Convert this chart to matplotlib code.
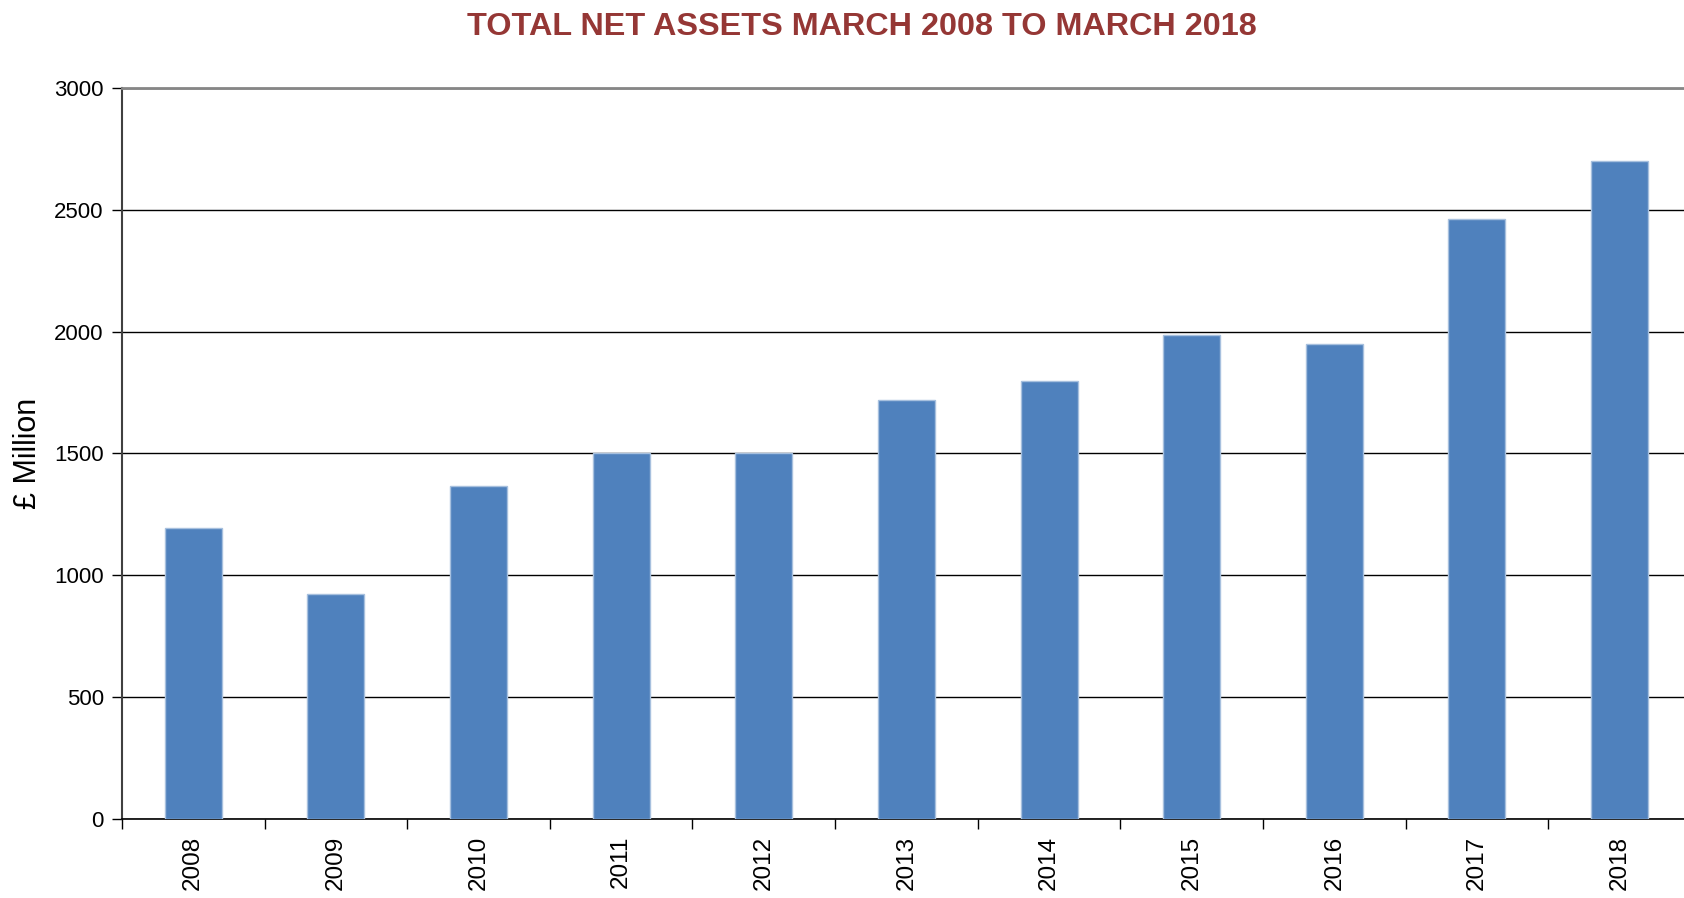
import matplotlib.pyplot as plt
import numpy as np

plt.rcParams['font.family'] = ['Liberation Sans', 'DejaVu Sans']

# Total net assets at March of each year (£ million)
years = ["2008", "2009", "2010", "2011", "2012", "2013",
         "2014", "2015", "2016", "2017", "2018"]
net_assets = [1195, 922, 1368, 1502, 1500, 1720, 1796, 1985, 1950, 2463, 2702]
y_ticks = [0, 500, 1000, 1500, 2000, 2500, 3000]

fig = plt.figure(figsize=(16.84, 8.98), dpi=100)
# plot area runs slightly off the right edge, as in the original
ax = fig.add_axes([0.0724, 0.088, 0.9317, 0.814])

x = np.arange(len(years))
ax.bar(x, net_assets, width=0.4, color="#4F81BD", edgecolor="#A7C0DE",
       linewidth=1, zorder=3)

ax.set_xlim(-0.5, len(years) - 0.5)
ax.set_ylim(0, 3000)
ax.set_yticks(y_ticks)
ax.set_yticklabels([str(v) for v in y_ticks], fontsize=16)
ax.grid(axis="y", color="black", linewidth=1, zorder=0)

# category labels under bars, tick marks on the boundaries
ax.set_xticks(x)
ax.set_xticklabels(years, rotation=90, fontsize=17.5)
ax.tick_params(axis="x", which="major", length=0, pad=12)
ax.set_xticks(np.arange(-0.5, len(years)), minor=True)
ax.tick_params(axis="x", which="minor", length=7, width=1, direction="out")
ax.tick_params(axis="y", length=7, width=1, direction="out", pad=6)

ax.spines["top"].set_color("#868686")
ax.spines["top"].set_linewidth(2)
ax.spines["right"].set_visible(False)
ax.spines["left"].set_color("#404040")
ax.spines["left"].set_linewidth(1.5)
ax.spines["bottom"].set_color("black")
ax.spines["bottom"].set_linewidth(1.2)

ax.set_ylabel("£ Million", fontsize=22, labelpad=8)

fig.suptitle("TOTAL NET ASSETS MARCH 2008 TO MARCH 2018", x=0.512, y=0.987,
             fontsize=23.3, fontweight="bold", color="#953735")

plt.savefig("out.png", dpi=100)
plt.close()
